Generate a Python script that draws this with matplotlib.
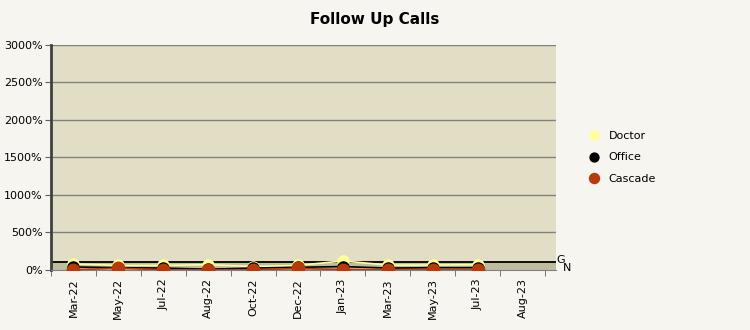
import numpy as np
import matplotlib
matplotlib.use("Agg")
import matplotlib.pyplot as plt

months = ["Mar-22", "May-22", "Jul-22", "Aug-22", "Oct-22", "Dec-22",
          "Jan-23", "Mar-23", "May-23", "Jul-23", "Aug-23"]
doctor = [80, 60, 60, 70, 45, 60, 120, 65, 65, 70, np.nan]
office = [40, 30, 25, 10, 25, 35, 45, 25, 30, 30, np.nan]
cascade = [0, 25, 0, 0, 0, 20, 5, 0, 0, 0, np.nan]
goal = 100
yticks = [0, 500, 1000, 1500, 2000, 2500, 3000]

bg = "#f7f5ef"
fig = plt.figure(figsize=(7.5, 3.3), dpi=100, facecolor=bg)
ax = fig.add_axes([0.068, 0.182, 0.673, 0.682])
ax.set_facecolor("#e2dec5")

x = np.arange(len(months))
ax.set_xlim(-0.5, 10.74)
ax.set_ylim(0, 3000)

# goal band + line
ax.axhspan(0, goal, color="#bfbca0", zorder=1)
ax.axhline(goal, color="black", lw=1.3, zorder=2)

for v in yticks[1:]:
    ax.axhline(v, color="#808080", lw=1, zorder=0.5)

ax.plot(x, doctor, color="#ffff99", lw=1.2, marker="o", ms=8, mec="#ffff99", zorder=3, label="Doctor")
ax.plot(x, office, color="black", lw=1.2, marker="o", ms=8, zorder=4, label="Office")
ax.plot(x, cascade, color="#b83a0a", lw=1.2, marker="o", ms=9, zorder=5, label="Cascade")

ax.set_yticks(yticks)
ax.set_yticklabels([f"{v}%" for v in yticks], fontsize=8)
ax.set_xticks(x)
ax.set_xticklabels(months, rotation=90, fontsize=8)
ax.set_xticks(np.arange(-0.5, 11, 1), minor=True)
ax.tick_params(axis="x", which="major", length=0, pad=6)
ax.tick_params(axis="x", which="minor", length=4, color="#606060")
ax.tick_params(axis="y", length=4, color="#606060", pad=2)

for s in ["top", "right"]:
    ax.spines[s].set_visible(False)
ax.spines["left"].set_color("#404040")
ax.spines["left"].set_linewidth(2)
ax.spines["bottom"].set_color("#808080")

ax.text(1.002, goal / 3000 + 0.012, "G", transform=ax.transAxes, fontsize=8, va="center", ha="left")
ax.text(1.014, goal / 3000 - 0.025, "N", transform=ax.transAxes, fontsize=8, va="center", ha="left")

fig.text(0.5, 0.94, "Follow Up Calls", ha="center", va="center", fontsize=11, fontweight="bold")

leg = ax.legend(loc="center left", bbox_to_anchor=(1.045, 0.5), frameon=False,
                fontsize=8, handlelength=1, labelspacing=1.0, markerscale=0.8)
for h in leg.legend_handles:
    h.set_linestyle("none")

fig.savefig("out.png", dpi=100, facecolor=bg)
